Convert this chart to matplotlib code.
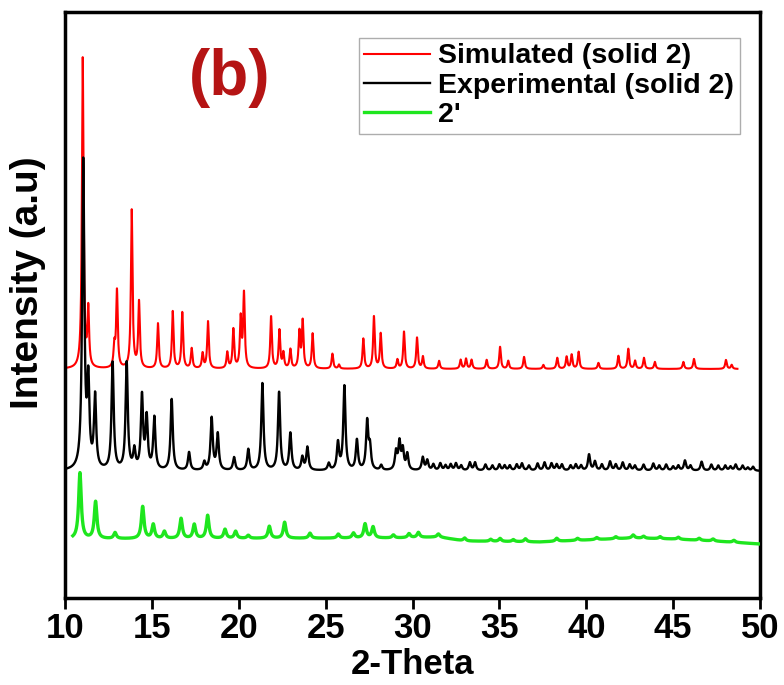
import numpy as np
import matplotlib.pyplot as plt

plt.rcParams['font.family'] = ['Liberation Sans', 'DejaVu Sans']
plt.rcParams['font.weight'] = 'bold'

# peak positions (2-theta) and heights (arb. units)
sim_pos = [11.02, 11.34, 12.84, 12.99, 13.84, 14.26, 15.35, 16.20, 16.75, 17.29,
           17.92, 18.23, 19.34, 19.69, 20.11, 20.30, 21.86, 22.34, 22.57, 22.97,
           23.49, 23.68, 24.25, 25.39, 25.77, 27.17, 27.78, 28.17, 29.13, 29.51,
           30.26, 30.60, 31.53, 32.77, 33.08, 33.40, 34.27, 35.04, 35.51, 36.42,
           37.53, 38.33, 38.87, 39.16, 39.56, 40.70, 41.85, 42.42, 42.81, 43.32,
           43.95, 45.59, 46.20, 48.04, 48.37]
sim_int = [310, 57, 21, 77, 158, 66, 45, 57, 56, 20,
           15, 47, 16, 39, 49, 74, 52, 38, 15, 19,
           36, 47, 35, 15, 4, 30, 52, 35, 9, 37,
           31, 12, 8, 9, 10, 9, 9, 22, 8, 12,
           4, 11, 12, 14, 17, 6, 13, 20, 8, 11,
           7, 7, 10, 9, 4]
sim_base = 229
sim_range = (10.05, 48.7)

exp_pos = [11.05, 11.34, 11.73, 12.74, 13.55, 13.99, 14.43, 14.70, 15.14, 16.14,
           17.14, 18.02, 18.44, 18.79, 19.73, 20.55, 21.36, 22.32, 22.97, 23.66,
           23.95, 25.18, 25.71, 26.08, 26.80, 27.39, 27.55, 28.20, 29.05, 29.25,
           29.44, 29.70, 30.59, 30.85, 31.20, 31.60, 31.90, 32.20, 32.50, 32.80,
           33.30, 33.60, 34.20, 34.60, 35.00, 35.30, 35.60, 36.00, 36.30, 36.70,
           37.20, 37.60, 38.00, 38.30, 38.60, 39.10, 39.40, 39.70, 40.16, 40.50,
           40.90, 41.37, 41.70, 42.10, 42.50, 42.80, 43.30, 43.86, 44.20, 44.60,
           45.00, 45.30, 45.68, 46.00, 46.64, 47.20, 47.60, 48.00, 48.30, 48.60,
           49.00, 49.30, 49.60]
exp_int = [307, 83, 72, 107, 107, 19, 73, 51, 52, 71,
           18, 8, 52, 36, 13, 21, 87, 78, 37, 13,
           23, 7, 27, 84, 30, 48, 22, 5, 18, 27,
           20, 16, 13, 10, 6, 7, 5, 6, 7, 5,
           8, 8, 6, 5, 6, 5, 5, 6, 7, 5,
           7, 8, 7, 6, 6, 5, 6, 5, 16, 9,
           6, 9, 6, 8, 6, 5, 6, 7, 5, 6,
           4, 5, 10, 5, 9, 6, 5, 5, 4, 6,
           5, 3, 4]
exp_base = 127
exp_range = (10.0, 50.0)

g_pos = [10.86, 11.76, 12.88, 14.47, 15.08, 15.72, 16.68, 17.44, 18.21, 19.21,
         19.82, 20.55, 21.76, 22.64, 24.10, 25.73, 26.60, 27.27, 27.73, 28.90,
         29.80, 30.34, 31.49, 33.00, 34.50, 35.04, 35.80, 36.50, 38.30, 39.50,
         40.60, 41.70, 42.70, 43.30, 44.25, 45.30, 46.50, 47.30, 48.50]
g_int = [66, 37, 6, 32, 14, 7, 20, 14, 23, 9,
         7, 3, 12, 16, 5, 4, 5, 14, 11, 3,
         4, 5, 3, 3, 2, 3, 2, 3, 3, 2,
         2, 2, 3, 2, 2, 2, 2, 2, 2]
g_base_x = [10.45, 29.0, 31.5, 33.0, 37.3, 40.0, 42.7, 45.0, 47.3, 50.0]
g_base_y = [59, 60, 61, 57, 56, 58, 60, 59, 57, 54]
g_range = (10.45, 50.0)


def pattern(pos, inten, fwhm, xr):
    x = np.arange(xr[0], xr[1], 0.005)
    hw = fwhm / 2
    y = np.zeros_like(x)
    for p, h in zip(pos, inten):
        y += h * hw**2 / ((x - p)**2 + hw**2)
    return x, y


fig = plt.figure(figsize=(7.84, 6.85), dpi=100)
ax = fig.add_axes([65/784, 1 - 598/685, 695/784, 586/685])

x, y = pattern(sim_pos, sim_int, 0.11, sim_range)
ax.plot(x, y + sim_base, color='#ff0000', lw=1.5, label='Simulated (solid 2)', zorder=2)

x, y = pattern(exp_pos, exp_int, 0.15, exp_range)
ax.plot(x, y + exp_base, color='black', lw=1.7, label='Experimental (solid 2)', zorder=3)

x, y = pattern(g_pos, g_int, 0.18, g_range)
ax.plot(x, y + np.interp(x, g_base_x, g_base_y), color='#1ee61e', lw=2.4,
        label="2'", zorder=3)

ax.set_xlim(10, 50)
ax.set_ylim(0, 586)
ax.set_xticks(np.arange(10, 51, 5))
ax.set_yticks([])
ax.tick_params(axis='x', direction='out', length=8, width=2, labelsize=25, pad=2)
for s in ax.spines.values():
    s.set_linewidth(2.5)

ax.set_xlabel('2-Theta', fontsize=25, fontweight='bold')
ax.xaxis.set_label_coords(0.5, -0.086)
ax.set_ylabel('Intensity (a.u)', fontsize=28, fontweight='bold')
ax.yaxis.set_label_coords(-0.028, 0.538)

ax.text(0.237, 0.887, '(b)', transform=ax.transAxes, fontsize=46, fontweight='bold',
        color='#b51414', ha='center', va='center')

leg = ax.legend(loc='upper right', bbox_to_anchor=(0.971, 0.956), fontsize=20.5,
                frameon=True, fancybox=False, edgecolor='#999999',
                handlelength=2.3, handletextpad=0.3, borderpad=0.2,
                labelspacing=0.12, borderaxespad=0)
leg.get_frame().set_linewidth(1.0)

plt.savefig('out.png', dpi=100)
